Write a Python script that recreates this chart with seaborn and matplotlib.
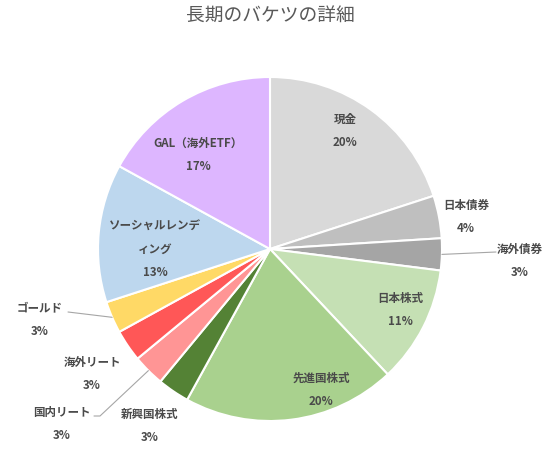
import numpy as np
import matplotlib
matplotlib.use("Agg")
import matplotlib.pyplot as plt
import seaborn as sns

sns.set_theme(style="white")
plt.rcParams['font.family'] = ['Noto Sans CJK JP', 'DejaVu Sans']

# データ
categories = ['現金', '日本債券', '海外債券', '日本株式', '先進国株式', '新興国株式',
              '国内リート', '海外リート', 'ゴールド', 'ソーシャルレンデ\nィング', 'GAL（海外ETF）']
values = [20, 4, 3, 11, 20, 3, 3, 3, 3, 13, 17]
colors = ['#D9D9D9', '#BFBFBF', '#A5A5A5', '#C5E0B4', '#A9D18E', '#548235',
          '#FF9595', '#FF5757', '#FFD966', '#BDD7EE', '#DDB6FF']

# ラベルの中心位置 (ピクセル) と引出線の折れ点
label_px = [(345, 131), (466, 217), (520, 261), (400, 310), (321, 390), (150, 426),
            (62, 424), (92, 374), (40, 320), (155, 249), (198, 155)]
leader_px = {2: [(496, 253)], 6: [(100, 417), (94, 417)], 8: [(68, 313)]}

W, H = 551, 456
fig = plt.figure(figsize=(W / 100, H / 100), dpi=100)
cx, cy, r = 270, 250, 172
ax = fig.add_axes([(cx - r) / W, (H - cy - r) / H, 2 * r / W, 2 * r / H])


def px2d(p):
    return (p[0] - cx) / r, (cy - p[1]) / r


wedges, _ = ax.pie(values, colors=colors, startangle=90, counterclock=False,
                   wedgeprops=dict(edgecolor='white', linewidth=1.5), radius=1)
ax.set_xlim(-1, 1)
ax.set_ylim(-1, 1)
ax.set_aspect('equal')
ax.axis('off')

total = sum(values)
for i, (w, name, v) in enumerate(zip(wedges, categories, values)):
    x, y = px2d(label_px[i])
    ax.text(x, y, f'{name}\n{v / total * 100:.0f}%', ha='center', va='center',
            fontsize=8.3, color='#4a4a4a', fontweight='bold',
            linespacing=2.05, clip_on=False)
    if i in leader_px:
        mid = np.deg2rad((w.theta1 + w.theta2) / 2)
        pts = [(np.cos(mid), np.sin(mid))] + [px2d(p) for p in leader_px[i]]
        xs, ys = zip(*pts)
        ax.plot(xs, ys, color='#A6A6A6', lw=0.8, clip_on=False)

fig.text(cx / W, 1 - 16 / H, '長期のバケツの詳細', ha='center', va='center',
         fontsize=13.5, color='#595959')

fig.savefig('out.png', dpi=100)
